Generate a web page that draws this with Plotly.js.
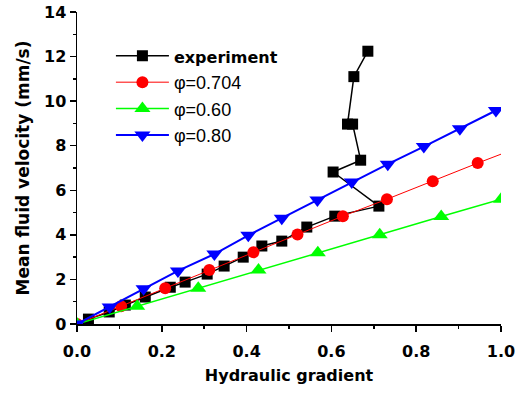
<!DOCTYPE html>
<html>
<head>
<meta charset="utf-8">
<script src="https://cdn.plot.ly/plotly-3.0.1.min.js"></script>
<style>
  html, body { margin: 0; padding: 0; background: #fff; }
  #chart { width: 523px; height: 394px; }
</style>
</head>
<body>
<div id="chart"></div>
<script>
// Measured mean fluid velocity versus hydraulic gradient
const expX = [0.027, 0.076, 0.114, 0.161, 0.220, 0.255, 0.307, 0.347, 0.392, 0.436, 0.483, 0.542, 0.608, 0.712, 0.604, 0.669, 0.650, 0.638, 0.653, 0.686];
const expY = [0.22, 0.54, 0.85, 1.21, 1.65, 1.88, 2.24, 2.60, 3.00, 3.50, 3.72, 4.35, 4.84, 5.29, 6.82, 7.35, 8.97, 8.97, 11.10, 12.24];

// Model predictions for three porosities
const phi0704X = [0, 0.104, 0.208, 0.312, 0.416, 0.520, 0.627, 0.731, 0.839, 0.945, 1.0];
const phi0704Y = [0, 0.80, 1.60, 2.42, 3.22, 4.02, 4.84, 5.60, 6.41, 7.22, 7.62];

const phi060X = [0, 0.142, 0.286, 0.428, 0.568, 0.714, 0.859, 1.0];
const phi060Y = [0, 0.80, 1.60, 2.42, 3.20, 4.00, 4.82, 5.60];

const phi080X = [0, 0.077, 0.157, 0.238, 0.324, 0.404, 0.483, 0.567, 0.648, 0.733, 0.818, 0.903, 0.988];
const phi080Y = [0, 0.76, 1.58, 2.38, 3.14, 3.98, 4.75, 5.56, 6.37, 7.17, 7.96, 8.76, 9.58];

const seriesNames = ['experiment', 'φ=0.704', 'φ=0.60', 'φ=0.80'];

const nRed = phi0704X.length;

const traces = [
  {
    x: expX, y: expY, name: '<span style="font-family:DejaVu Sans;font-weight:bold;font-size:16px">' + seriesNames[0] + '</span>',
    mode: 'lines+markers',
    line: { color: '#000000', width: 1.5 },
    marker: { symbol: 'square', size: 11, color: '#000000' }
  },
  {
    x: phi0704X.slice(0, nRed - 1), y: phi0704Y.slice(0, nRed - 1), name: seriesNames[1],
    mode: 'lines+markers',
    line: { color: '#ff0000', width: 1 },
    marker: { symbol: 'circle', size: 12, color: '#ff0000' }
  },
  {
    // red model line continues to the end of the axis without a symbol
    x: phi0704X.slice(nRed - 2), y: phi0704Y.slice(nRed - 2),
    mode: 'lines', showlegend: false, hoverinfo: 'skip',
    line: { color: '#ff0000', width: 1 }
  },
  {
    x: phi060X, y: phi060Y, name: seriesNames[2],
    mode: 'lines+markers',
    line: { color: '#00ff00', width: 1.5 },
    marker: { symbol: 'triangle-up', size: 14, color: '#00ff00' }
  },
  {
    x: phi080X, y: phi080Y, name: seriesNames[3],
    mode: 'lines+markers',
    line: { color: '#0000ff', width: 2 },
    marker: { symbol: 'triangle-down', size: 14, color: '#0000ff' }
  }
];

const tickFont = { family: 'DejaVu Sans', size: 16, color: '#000', weight: 'bold' };

const layout = {
  width: 523, height: 394,
  margin: { l: 77, r: 22, t: 12, b: 70 },
  paper_bgcolor: '#ffffff',
  plot_bgcolor: '#ffffff',
  font: { family: 'DejaVu Sans', size: 16, color: '#000' },
  showlegend: true,
  legend: {
    x: 0.08, y: 0.918, xanchor: 'left', yanchor: 'top',
    bgcolor: 'rgba(0,0,0,0)', borderwidth: 0,
    font: { family: 'Liberation Sans', size: 18, color: '#000' },
    itemwidth: 53,
    traceorder: 'normal'
  },
  xaxis: {
    range: [0, 1.0], autorange: false,
    tickmode: 'linear', tick0: 0, dtick: 0.2, tickformat: '.1f',
    ticks: 'outside', ticklen: 6, tickwidth: 1.5, tickcolor: '#000',
    minor: { dtick: 0.1, ticks: 'outside', ticklen: 3, tickwidth: 1.5, tickcolor: '#000' },
    showline: true, linecolor: '#000', linewidth: 1.5, mirror: false,
    showgrid: false, zeroline: false,
    tickfont: tickFont,
    ticklabelstandoff: 6,
    title: { text: 'Hydraulic gradient', font: { family: 'DejaVu Sans', size: 16, color: '#000', weight: 'bold' }, standoff: 10 }
  },
  yaxis: {
    range: [0, 14], autorange: false,
    tickmode: 'linear', tick0: 0, dtick: 2,
    ticks: 'outside', ticklen: 6, tickwidth: 1.5, tickcolor: '#000',
    minor: { dtick: 1, ticks: 'outside', ticklen: 3, tickwidth: 1.5, tickcolor: '#000' },
    showline: true, linecolor: '#000', linewidth: 1.5, mirror: false,
    showgrid: false, zeroline: false,
    tickfont: tickFont,
    title: { text: 'Mean fluid velocity (mm/s)', font: { family: 'DejaVu Sans', size: 17, color: '#000', weight: 'bold' }, standoff: 10 }
  }
};

Plotly.newPlot('chart', traces, layout, { staticPlot: true, displayModeBar: false });
</script>
</body>
</html>
